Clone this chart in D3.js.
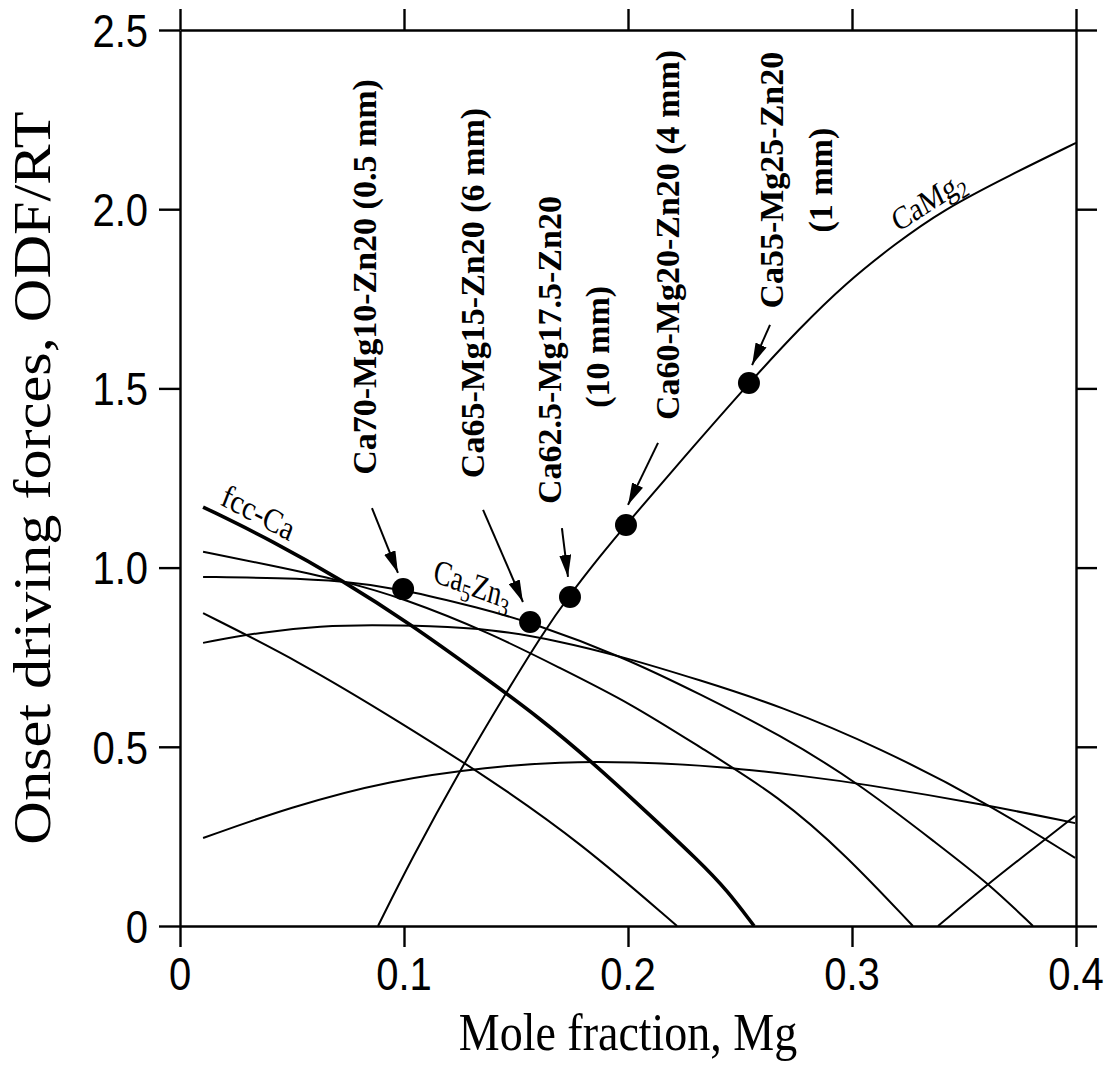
<!DOCTYPE html>
<html>
<head>
<meta charset="utf-8">
<script src="https://cdn.jsdelivr.net/npm/d3@7"></script>
<style>
  body { margin: 0; background: #fff; }
</style>
</head>
<body>
<div id="chart"></div>
<script>
// ---- data ----
const xTicks = [0, 0.1, 0.2, 0.3, 0.4];
const yTicks = [0, 0.5, 1.0, 1.5, 2.0, 2.5];

// CaMg2
const curveCaMg2 = [[0.0884,0],[0.1031,0.184],[0.125,0.435],[0.146,0.655],[0.162,0.817],[0.174,0.924],
  [0.1875,1.032],[0.199,1.119],[0.2246,1.305],[0.254,1.515],[0.2768,1.669],[0.2973,1.794],
  [0.3192,1.903],[0.3406,1.998],[0.3705,2.095],[0.4,2.185]];
// fcc-Ca (thick)
const curveFcc = [[0.0103,1.169],[0.0415,1.074],[0.0728,0.963],[0.1027,0.843],[0.1339,0.703],
  [0.1607,0.580],[0.1844,0.455],[0.2054,0.335],[0.2321,0.179],[0.2442,0.100],[0.2563,0]];
// Ca5Zn3
const curveCa5Zn3 = [[0.0103,0.974],[0.0446,0.971],[0.0728,0.963],[0.0996,0.940],[0.1339,0.887],
  [0.1563,0.848],[0.1978,0.751],[0.2321,0.647],[0.2679,0.533],[0.3022,0.402],[0.3393,0.223],
  [0.3607,0.120],[0.3808,0]];
// other phases
const curveB = [[0.0103,1.044],[0.0402,1.007],[0.0728,0.963],[0.0996,0.915],[0.1384,0.818],
  [0.1696,0.720],[0.2009,0.622],[0.2321,0.499],[0.2679,0.360],[0.2973,0.198],[0.3272,0]];
const curveD = [[0.0103,0.873],[0.0536,0.737],[0.0982,0.569],[0.1384,0.410],[0.1786,0.234],[0.2219,0]];
const curveE = [[0.0103,0.790],[0.0357,0.820],[0.0638,0.837],[0.0848,0.840],[0.1116,0.837],
  [0.1384,0.829],[0.1696,0.795],[0.1978,0.751],[0.2321,0.686],[0.2679,0.614],[0.3125,0.497],
  [0.3603,0.343],[0.3996,0.190]];
const curveF = [[0.0103,0.2455],[0.0491,0.332],[0.0938,0.407],[0.1384,0.444],[0.1696,0.458],
  [0.2009,0.458],[0.2411,0.446],[0.2813,0.416],[0.3022,0.399],[0.3603,0.338],[0.3996,0.287]];
const curveG = [[0.3384,0],[0.3607,0.117],[0.3795,0.209],[0.3996,0.307]];

// alloys (dots) and their labels
const alloyX = [0.0996, 0.1563, 0.1741, 0.1991, 0.254];
const alloyY = [0.940, 0.848, 0.918, 1.119, 1.515];
const alloyLabels = [
  ["Ca70-Mg10-Zn20 (0.5 mm)"],
  ["Ca65-Mg15-Zn20 (6 mm)"],
  ["Ca62.5-Mg17.5-Zn20", "(10 mm)"],
  ["Ca60-Mg20-Zn20 (4 mm)"],
  ["Ca55-Mg25-Zn20", "(1 mm)"]
];

// ---- layout ----
const width = 1113, height = 1066;
const stretch = 1.16;           // axis text in the picture is taller than wide
const tickLen = 21;

const svg = d3.select("#chart").append("svg")
    .attr("width", width)
    .attr("height", height);

const x = d3.scaleLinear().domain([0, 0.4]).range([180, 1076]);
const y = d3.scaleLinear().domain([0, 2.5]).range([926, 30]);

// axes: four sides, outward ticks
function styleAxis(g) {
  g.select(".domain").attr("stroke", "#000").attr("stroke-width", 2.4);
  g.selectAll(".tick line").attr("stroke", "#000").attr("stroke-width", 2.4);
  g.selectAll(".tick text").remove();
}
svg.append("g").attr("transform", `translate(0,${y(0)})`)
  .call(d3.axisBottom(x).tickValues(xTicks).tickSize(tickLen).tickSizeOuter(0)).call(styleAxis);
svg.append("g").attr("transform", `translate(0,${y(2.5)})`)
  .call(d3.axisTop(x).tickValues(xTicks).tickSize(tickLen).tickSizeOuter(0)).call(styleAxis);
svg.append("g").attr("transform", `translate(${x(0)},0)`)
  .call(d3.axisLeft(y).tickValues(yTicks).tickSize(tickLen).tickSizeOuter(0)).call(styleAxis);
svg.append("g").attr("transform", `translate(${x(0.4)},0)`)
  .call(d3.axisRight(y).tickValues(yTicks).tickSize(tickLen).tickSizeOuter(0)).call(styleAxis);

const fmt = v => v === 0 ? "0" : d3.format(".1f")(v);
const sans = "Liberation Sans, Arial, sans-serif";
const serif = "Liberation Serif, Times New Roman, serif";

// tick labels
svg.append("g").selectAll("text").data(xTicks).join("text")
    .attr("transform", d => `translate(${x(d)},990) scale(1,${stretch})`)
    .attr("text-anchor", "middle")
    .attr("font-family", sans)
    .attr("font-size", 40)
    .text(fmt);
svg.append("g").selectAll("text").data(yTicks).join("text")
    .attr("transform", d => `translate(148,${y(d)}) scale(1,${stretch})`)
    .attr("text-anchor", "end")
    .attr("dy", "0.36em")
    .attr("font-family", sans)
    .attr("font-size", 40)
    .text(fmt);

// axis titles
svg.append("text")
    .attr("transform", `translate(${x(0.2)},1050) scale(1,${stretch})`)
    .attr("text-anchor", "middle")
    .attr("font-family", serif)
    .attr("font-size", 46)
    .text("Mole fraction, Mg");
svg.append("text")
    .attr("transform", `translate(50,478) scale(1,${stretch}) rotate(-90)`)
    .attr("text-anchor", "middle")
    .attr("font-family", serif)
    .attr("font-size", 52)
    .text("Onset driving forces, ODF/RT");

// curves
const line = d3.line()
    .x(d => x(d[0]))
    .y(d => y(d[1]))
    .curve(d3.curveBasis);

const plot = svg.append("g");
[curveCaMg2, curveCa5Zn3, curveB, curveD, curveE, curveF, curveG].forEach(c => {
  plot.append("path").attr("d", line(c))
      .attr("fill", "none").attr("stroke", "#000").attr("stroke-width", 2);
});
plot.append("path").attr("d", line(curveFcc))
    .attr("fill", "none").attr("stroke", "#000").attr("stroke-width", 3.6);

// phase labels; part flag 1 = subscript, -1 = back to baseline
function phaseLabel(px, py, angle, size, sy, parts) {
  const t = svg.append("text")
      .attr("transform", `translate(${px},${py}) scale(1,${sy}) rotate(${angle})`)
      .attr("font-family", serif)
      .attr("font-size", size);
  parts.forEach(p => {
    t.append("tspan").text(p[0])
      .attr("font-size", p[1] === 1 ? size * 0.72 : size)
      .attr("dy", p[1] === 1 ? size * 0.22 : (p[1] === -1 ? -size * 0.22 : 0));
  });
}
phaseLabel(x(0.0175), y(1.177), 24.5, 29, stretch, [["fcc-Ca", 0]]);
phaseLabel(x(0.1125), y(0.962), 16, 27, 1.3, [["Ca", 0], ["5", 1], ["Zn", -1], ["3", 1]]);
phaseLabel(x(0.3205), y(1.935), -29, 28, stretch, [["CaMg", 0], ["2", 1]]);

// arrows
const defs = svg.append("defs");
defs.append("marker")
    .attr("id", "head")
    .attr("markerUnits", "userSpaceOnUse")
    .attr("viewBox", "0 0 22 12")
    .attr("refX", 22).attr("refY", 6)
    .attr("markerWidth", 22).attr("markerHeight", 12)
    .attr("orient", "auto")
  .append("path").attr("d", "M0,0 L22,6 L0,12 Z").attr("fill", "#000");

const arrowFrom = [[0.0857,1.166],[0.1353,1.161],[0.1705,1.110],[0.2134,1.348],[0.2634,1.677]];
const arrowTo   = [[0.0973,0.985],[0.1531,0.904],[0.1732,0.974],[0.2000,1.175],[0.2554,1.565]];
arrowFrom.forEach((a, i) => {
  svg.append("line")
      .attr("x1", x(a[0])).attr("y1", y(a[1]))
      .attr("x2", x(arrowTo[i][0])).attr("y2", y(arrowTo[i][1]))
      .attr("stroke", "#000").attr("stroke-width", 2)
      .attr("marker-end", "url(#head)");
});

// dots
svg.append("g").selectAll("circle").data(alloyX).join("circle")
    .attr("cx", d => x(d))
    .attr("cy", (d, i) => y(alloyY[i]))
    .attr("r", 11)
    .attr("fill", "#000");

// alloy labels, rotated; [baseline x, centre y] in data units
const labelPos = [
  [[0.0875, 1.811]],
  [[0.1357, 1.766]],
  [[0.1701, 1.607], [0.1915, 1.616]],
  [[0.2228, 1.928]],
  [[0.2692, 2.081], [0.2911, 2.081]]
];
alloyLabels.forEach((lines, i) => {
  lines.forEach((s, j) => {
    const p = labelPos[i][j];
    svg.append("text")
        .attr("transform", `translate(${x(p[0])},${y(p[1])}) rotate(-90)`)
        .attr("text-anchor", "middle")
        .attr("font-family", serif)
        .attr("font-weight", "bold")
        .attr("font-size", 34)
        .text(s);
  });
});
</script>
</body>
</html>
